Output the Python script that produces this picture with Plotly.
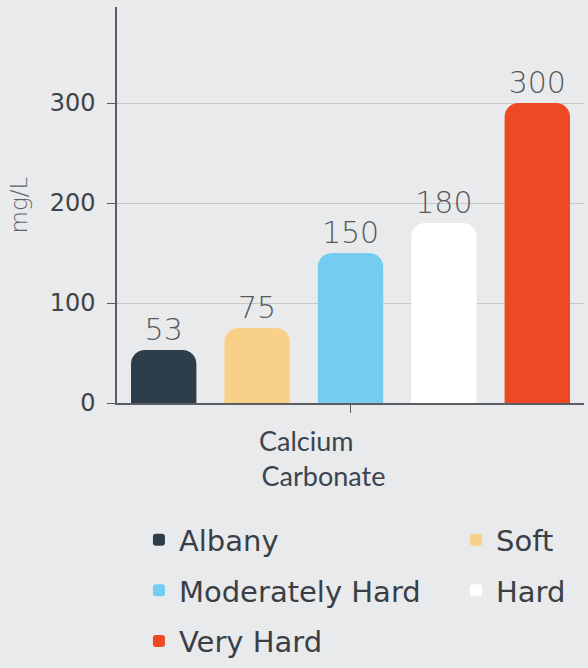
import plotly.graph_objects as go

category = ["Calcium Carbonate"]
category_label = ["Calcium\u00a0\u00a0\u00a0\u00a0\u00a0<br>Carbonate"]
series_names = ["Albany", "Soft", "Moderately Hard", "Hard", "Very Hard"]
series_values = [53, 75, 150, 180, 300]
series_colors = ["#2d3d4a", "#f8d088", "#74cdf0", "#ffffff", "#ee4824"]
legend_ids = ["legend", "legend2", "legend", "legend2", "legend"]
y_ticks = [0, 100, 200, 300]

BG = "#e9eaec"
FONT = "DejaVu Sans, sans-serif"

fig = go.Figure()
for name, val, col, lg in zip(series_names, series_values, series_colors, legend_ids):
    fig.add_trace(go.Bar(
        x=category, y=[val], name=name,
        marker=dict(color=col, cornerradius=14, line=dict(width=0)),
        text=[str(val)], textposition="outside", cliponaxis=False,
        textfont=dict(size=30, color="#55595e", family=FONT, weight=200),
        legend=lg, legendgroup=name,
    ))

legend_common = dict(
    xanchor="left", yanchor="top",
    bgcolor="rgba(0,0,0,0)", tracegroupgap=10,
    font=dict(size=29, color="#3a3f46", family=FONT),
)
fig.update_layout(
    width=588, height=668,
    paper_bgcolor=BG, plot_bgcolor=BG,
    margin=dict(l=117, r=4, t=7, b=265, autoexpand=False),
    barmode="group", bargap=0, bargroupgap=0.3,
    font=dict(family=FONT, color="#3c4148"),
    showlegend=True,
    legend=dict(x=0.047, y=-0.281, **legend_common),
    legend2=dict(x=0.726, y=-0.281, **legend_common),
)

fig.update_xaxes(
    showline=True, linecolor="#5a5d62", linewidth=1.5,
    ticks="outside", ticklen=8, tickcolor="#5a5d62",
    tickvals=category, ticktext=category_label,
    tickfont=dict(size=27, color="#3a4550", family="Lato, sans-serif"),
    ticklabelstandoff=6, ticklabelshift=-27,
    showgrid=False,
)
fig.update_yaxes(
    range=[0, 396],
    tickvals=y_ticks,
    showline=True, linecolor="#5a5d62", linewidth=1.5,
    ticks="outside", ticklen=8, tickcolor="#5a5d62",
    tickfont=dict(size=24, color="#404448", family=FONT),
    ticklabelstandoff=7,
    showgrid=True, gridcolor="#c6c8cb", gridwidth=1,
    zeroline=False,
    title=dict(text="mg/L", font=dict(size=23, color="#5f6368", family=FONT, weight=200), standoff=16),
)

fig.write_html(
    "out.html",
    config={"displayModeBar": False},
    post_script="document.body.style.margin='0';document.body.style.overflow='hidden';",
)
